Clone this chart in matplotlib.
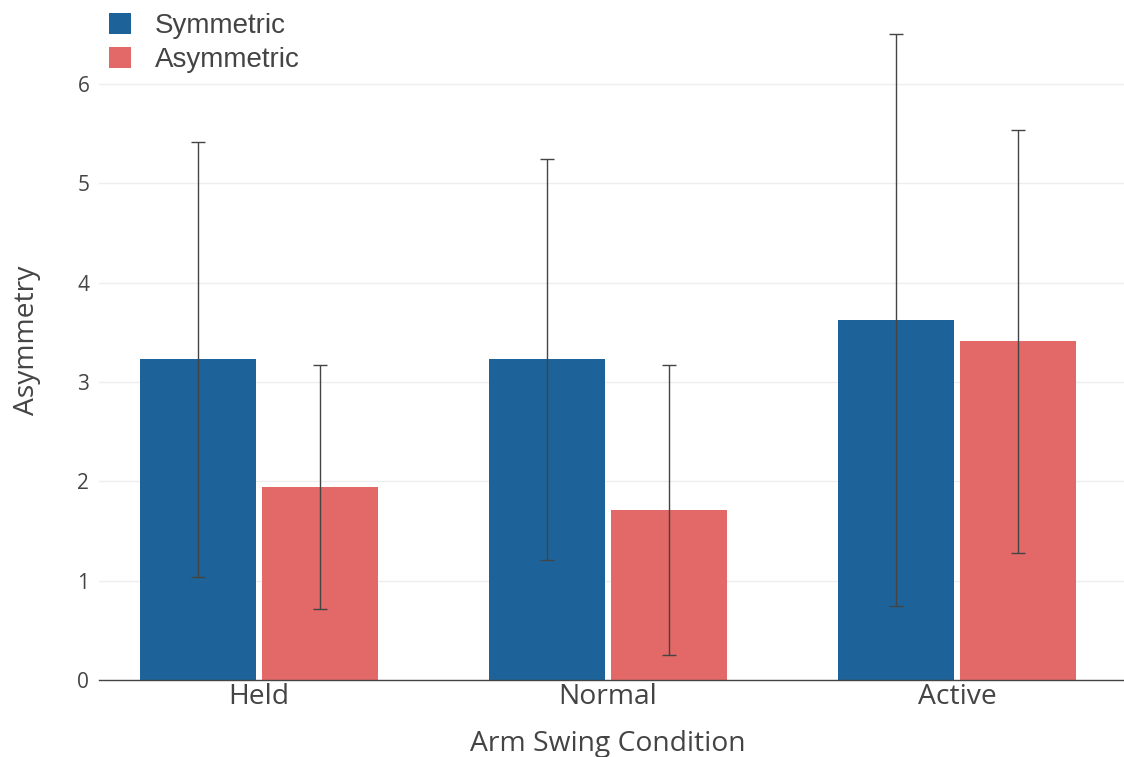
import numpy as np
import matplotlib
matplotlib.use("Agg")
import matplotlib.pyplot as plt

plt.rcParams['font.family'] = ['Open Sans', 'DejaVu Sans']

conditions = ['Held', 'Normal', 'Active']
sym_mean = [3.23, 3.23, 3.62]
sym_err = [2.19, 2.02, 2.88]
asym_mean = [1.94, 1.71, 3.41]
asym_err = [1.23, 1.46, 2.13]

blue = '#1d6399'
red = '#e36968'
txt = '#444444'

W, H = 1124, 757
fig = plt.figure(figsize=(W / 100, H / 100), dpi=100)
# axes box in pixels: left 99, right 1124, bottom 680, top 20
ax = fig.add_axes([99 / W, 1 - 680 / H, (1124 - 99) / W, (680 - 20) / H])

x = np.arange(len(conditions))
bw = 0.332
off = 0.175
ek = dict(ecolor=txt, elinewidth=1.0, capsize=5, capthick=1.0)
b1 = ax.bar(x - off, sym_mean, bw, color=blue, yerr=sym_err, error_kw=ek, label='Symmetric', zorder=2)
b2 = ax.bar(x + off, asym_mean, bw, color=red, yerr=asym_err, error_kw=ek, label='Asymmetric', zorder=2)

ax.set_xlim(-0.458, 2.478)
ax.set_ylim(0, 660 / 99.33)
ax.set_yticks([0, 1, 2, 3, 4, 5, 6])
ax.set_xticks(x)
ax.set_xticklabels(conditions)

ax.grid(axis='y', color='#eeeeee', linewidth=1.0, zorder=0)
ax.set_axisbelow(True)
for s in ['top', 'right', 'left']:
    ax.spines[s].set_visible(False)
ax.spines['bottom'].set_color(txt)
ax.spines['bottom'].set_linewidth(1.0)
ax.spines['bottom'].set_zorder(3)

ax.tick_params(axis='y', length=0, pad=7, labelsize=15, labelcolor=txt)
ax.tick_params(axis='x', length=0, pad=2, labelsize=20.3, labelcolor=txt)

ax.set_xlabel('Arm Swing Condition', fontsize=20.3, color=txt)
ax.set_ylabel('Asymmetry', fontsize=20.3, color=txt)
ax.xaxis.set_label_coords(0.496, -0.075)
ax.yaxis.set_label_coords(-0.057, 0.515)

leg = ax.legend(handles=[b1, b2], loc='upper left', bbox_to_anchor=(109 / W, 1 - 13 / H),
                bbox_transform=fig.transFigure, frameon=False,
                prop={'family': 'Liberation Sans', 'size': 20},
                handlelength=0.8, handleheight=0.8, handletextpad=0.85,
                labelspacing=0.28, borderpad=0, borderaxespad=0)
for t in leg.get_texts():
    t.set_color(txt)

fig.savefig('out.png', dpi=100)
